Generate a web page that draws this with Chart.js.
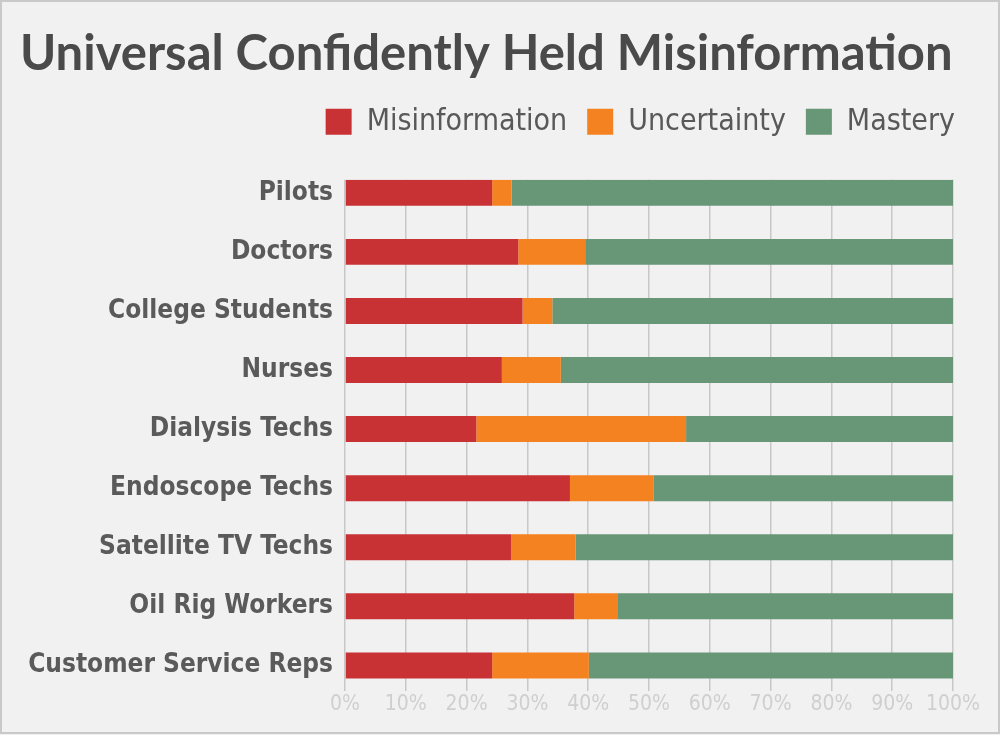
<!DOCTYPE html>
<html lang="en">
<head>
    <meta charset="UTF-8">
    <title>Universal Confidently Held Misinformation</title>
    <style>
        html, body {
            margin: 0;
            padding: 0;
            background: #f1f1f1;
        }
        .chart-box {
            width: 1000px;
            height: 735px;
        }
    </style>
</head>
<body>
<div class="chart-box">
    <canvas id="chart" width="1000" height="735"></canvas>
</div>

<script src="https://cdn.jsdelivr.net/npm/chart.js"></script>
<script>
    // Data (percent of each group)
    const groups = ['Pilots', 'Doctors', 'College Students', 'Nurses', 'Dialysis Techs',
        'Endoscope Techs', 'Satellite TV Techs', 'Oil Rig Workers', 'Customer Service Reps'];
    const misinformation = [24.2, 28.5, 29.2, 25.8, 21.6, 37.0, 27.3, 37.7, 24.2];
    const uncertainty    = [3.2, 11.0, 4.9, 9.7, 34.5, 13.8, 10.6, 7.2, 15.9];
    const mastery        = [72.6, 60.5, 65.9, 64.5, 43.9, 49.2, 62.1, 55.1, 59.9];
    const xTicks = [0, 10, 20, 30, 40, 50, 60, 70, 80, 90, 100];

    const narrow = '"Liberation Sans Narrow", "DejaVu Sans Condensed", sans-serif';

    // size the category labels so the longest one fits the ~313px the original gives it
    const probe = document.createElement('canvas').getContext('2d');
    probe.font = 'bold 32px ' + narrow;
    const longest = Math.max(...groups.map(g => probe.measureText(g).width));
    const labelSize = Math.min(32, Math.floor(32 * 313 / longest));

    // index axis is linear so the gridlines can stop at the first/last bar like the original
    function rows(values) {
        return values.map((v, i) => ({ x: v, y: i }));
    }

    // background + thin frame
    const frame = {
        id: 'frame',
        beforeDraw(chart) {
            const c = chart.ctx;
            c.save();
            c.fillStyle = '#f1f1f1';
            c.fillRect(0, 0, chart.width, chart.height);
            c.strokeStyle = '#c9c9c9';
            c.lineWidth = 2;
            c.strokeRect(1, 1, chart.width - 2, chart.height - 3);
            c.restore();
        }
    };

    // extra room under the legend, and push it to the right edge
    const legendGap = {
        id: 'legendGap',
        beforeInit(chart) {
            const fit = chart.legend.fit;
            chart.legend.fit = function () {
                fit.bind(chart.legend)();
                this.height += 33;
            };
        },
        afterLayout(chart) {
            chart.legend.left += 22;
            chart.legend.right += 22;
        }
    };

    new Chart(document.getElementById('chart'), {
        type: 'bar',
        data: {
            datasets: [
                { label: 'Misinformation', data: rows(misinformation), backgroundColor: '#c93234' },
                { label: 'Uncertainty', data: rows(uncertainty), backgroundColor: '#f58220' },
                { label: 'Mastery', data: rows(mastery), backgroundColor: '#679776' }
            ]
        },
        options: {
            indexAxis: 'y',
            responsive: false,
            animation: false,
            devicePixelRatio: 1,
            barPercentage: 0.88,
            categoryPercentage: 0.5,
            layout: {
                padding: { left: 20, right: 47, top: 0, bottom: 17 }
            },
            plugins: {
                tooltip: { enabled: false },
                title: {
                    display: true,
                    text: 'Universal Confidently Held Misinformation',
                    align: 'start',
                    color: '#4a4a4a',
                    font: { family: 'Lato, sans-serif', size: 49, weight: 'bold', lineHeight: 1.2 },
                    padding: { top: 25, bottom: 3 }
                },
                legend: {
                    display: true,
                    align: 'end',
                    labels: {
                        boxWidth: 26,
                        boxHeight: 26,
                        padding: 20,
                        color: '#595959',
                        font: { family: narrow, size: 30 }
                    }
                }
            },
            scales: {
                x: {
                    stacked: true,
                    min: 0,
                    max: 100,
                    afterBuildTicks: (scale) => { scale.ticks = xTicks.map(v => ({ value: v })); },
                    border: { display: false },
                    grid: { color: '#c8c8c8', lineWidth: 1.5, drawTicks: false },
                    ticks: {
                        color: '#cfcfcf',
                        padding: 1,
                        maxRotation: 0,
                        minRotation: 0,
                        autoSkip: false,
                        font: { family: narrow, size: 21 },
                        callback: (v) => v + '%'
                    }
                },
                y: {
                    type: 'linear',
                    stacked: true,
                    reverse: true,
                    offset: false,
                    min: -0.22,
                    max: 8.43,
                    afterBuildTicks: (scale) => { scale.ticks = groups.map((g, i) => ({ value: i })); },
                    afterFit: (scale) => { scale.width = 325; },
                    border: { display: false },
                    grid: { display: false, drawTicks: false, offset: false },
                    ticks: {
                        color: '#5a5a5a',
                        padding: 12,
                        font: { family: narrow, size: labelSize, weight: 'bold' },
                        callback: (v) => groups[v] || ''
                    }
                }
            }
        },
        plugins: [frame, legendGap]
    });
</script>
</body>
</html>
